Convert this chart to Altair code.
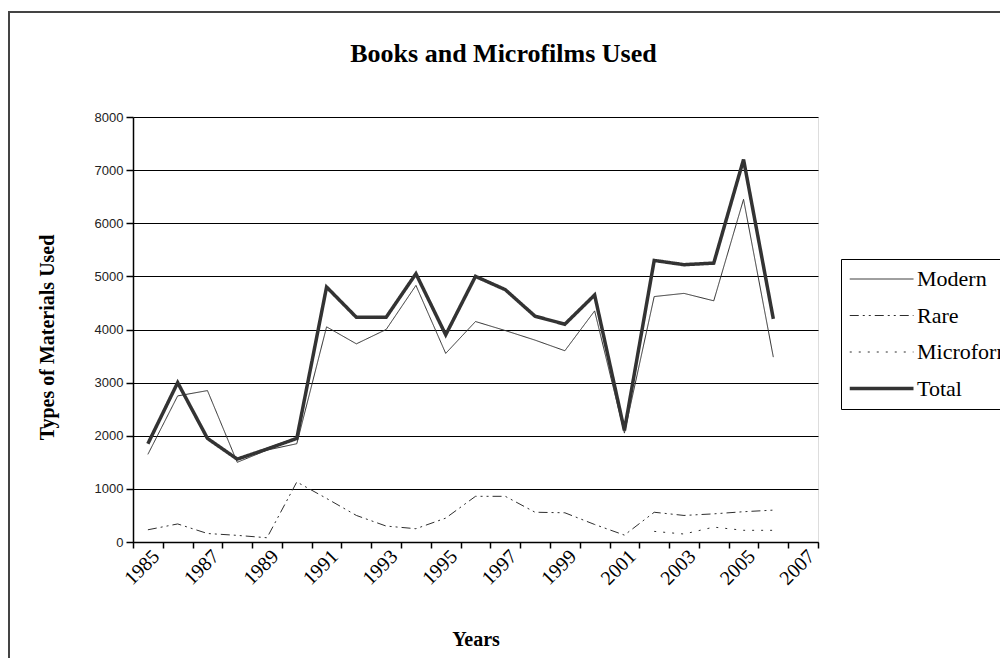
import altair as alt
import pandas as pd

years = list(range(1985, 2007))
modern = [1650, 2750, 2850, 1500, 1730, 1850, 4050, 3730, 4000, 4830, 3550, 4150,
          3980, 3800, 3600, 4350, 2050, 4620, 4680, 4540, 6450, 3480]
rare = [230, 340, 160, 125, 80, 1130, 820, 500, 300, 250, 450, 860,
        860, 560, 550, 330, 130, 560, 500, 530, 570, 600]
microform = [None] * 17 + [200, 150, 280, 220, 220]
total = [1850, 3000, 1950, 1560, 1750, 1950, 4800, 4230, 4230, 5050, 3900, 5000,
         4750, 4250, 4100, 4650, 2100, 5300, 5220, 5250, 7200, 4200]

categories = list(range(1985, 2008))
tick_labels = [1985, 1987, 1989, 1991, 1993, 1995, 1997, 1999, 2001, 2003, 2005, 2007]
series_names = ["Modern", "Rare", "Microform", "Total"]
line_widths = [1, 1, 1, 3.5]

rows = []
for name, vals, sw in zip(series_names, [modern, rare, microform, total], line_widths):
    for y, v in zip(years, vals):
        rows.append({"year": y, "value": v, "series": name, "sw": sw})
df = pd.DataFrame(rows)

W, H = 685, 425

tick_edges = [c - 0.5 for c in categories] + [categories[-1] + 0.5]
x_values = sorted(tick_edges + tick_labels)

leg = alt.Legend(
    title=None, orient="none", legendX=708, legendY=142,
    symbolType="M-4.1,0H1", symbolSize=625, symbolOffset=40,
    symbolStrokeWidth=alt.ExprRef("datum.value === 'Total' ? 3.5 : 1"),
    labelFont="Liberation Serif", labelFontSize=22, labelColor="black", labelOffset=5,
    strokeColor="black", padding=9, rowPadding=14.5, labelLimit=300,
)

lines = alt.Chart(df).mark_line(clip=False).encode(
    x=alt.X("year:Q",
            scale=alt.Scale(domain=[categories[0] - 0.5, categories[-1] + 0.5], nice=False, zero=False),
            axis=alt.Axis(
                values=x_values, title="Years", grid=False,
                labelExpr="datum.value % 2 == 1 ? format(datum.value, 'd') : ''",
                labelOverlap=False, labelAngle=-45, labelAlign="right", labelBaseline="middle",
                labelFont="Liberation Serif", labelFontSize=20, labelColor="black", labelPadding=5,
                labelOffset=8,
                tickSize=6, tickColor="black", tickWidth=1.5,
                tickOpacity={"condition": {"test": "datum.value % 1 != 0", "value": 1}, "value": 0},
                domainColor="black", domainWidth=1.5,
                titleFont="Liberation Serif", titleFontSize=20, titleFontWeight="bold",
                titleColor="black", titleY=103, titleBaseline="alphabetic",
            )),
    y=alt.Y("value:Q",
            scale=alt.Scale(domain=[0, 8000], nice=False),
            axis=alt.Axis(
                values=list(range(0, 8001, 1000)), format="d", title="Types of Materials Used",
                grid=True, gridColor="black", gridWidth=1.2, gridOpacity=1,
                tickSize=7, tickColor="black", tickWidth=1.5,
                domainColor="black", domainWidth=1.5,
                labelFont="Liberation Sans", labelFontSize=13, labelColor="#222", labelPadding=3,
                titleFont="Liberation Serif", titleFontSize=20, titleFontWeight="bold",
                titleColor="black", titleX=-80, titleY=220, titleBaseline="alphabetic",
            )),
    color=alt.Color("series:N", scale=alt.Scale(domain=series_names,
                                                range=["#2e2e2e", "#2e2e2e", "#2e2e2e", "#333"]), legend=leg),
    strokeDash=alt.StrokeDash("series:N", scale=alt.Scale(domain=series_names,
                                                         range=[[1, 0], [9, 4, 2, 4, 2, 4], [2, 7], [1, 0]]), legend=leg),
    strokeWidth=alt.StrokeWidth("sw:Q", scale=None, legend=None),
)

border = alt.Chart(pd.DataFrame({"a": [0]})).mark_rect(
    fillOpacity=0, stroke="#444", strokeWidth=2, clip=False
).encode(
    x=alt.value(-124), x2=alt.value(950), y=alt.value(-105), y2=alt.value(700)
)

chart = alt.layer(border, lines).properties(
    width=W, height=H,
    title=alt.Title("Books and Microfilms Used", font="Liberation Serif", fontSize=26,
                    fontWeight="bold", color="black", anchor="middle", frame="group", dx=28,
                    baseline="alphabetic", offset=-77),
    autosize=alt.AutoSizeParams(type="none"),
    padding={"left": 125, "top": 109, "right": 182, "bottom": 116},
).configure_view(stroke="black", strokeWidth=1.5).configure(background="white")

chart.save("out.html", embed_options={"renderer": "svg", "actions": False})
